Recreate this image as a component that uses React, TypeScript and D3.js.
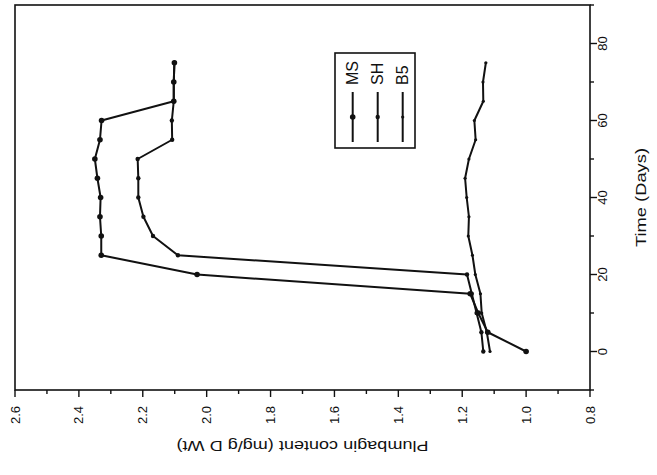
import React from "react";
import * as d3 from "d3";

// Sampling days for all three media
const days = [0, 5, 10, 15, 20, 25, 30, 35, 40, 45, 50, 55, 60, 65, 70, 75];

// Plumbagin content (mg/g D Wt) per medium
const msValues = [1.0, 1.12, 1.15, 1.175, 2.03, 2.33, 2.33, 2.334, 2.332, 2.342, 2.35, 2.334, 2.329, 2.103, 2.103, 2.101];
const shValues = [1.134, 1.14, 1.155, 1.17, 1.185, 2.09, 2.168, 2.198, 2.214, 2.214, 2.216, 2.108, 2.109, 2.103, 2.103, 2.101];
const b5Values = [1.113, 1.123, 1.139, 1.143, 1.159, 1.168, 1.181, 1.179, 1.186, 1.191, 1.179, 1.158, 1.162, 1.134, 1.135, 1.126];

const seriesNames = ["MS", "SH", "B5"];

const timeMajorTicks = [0, 20, 40, 60, 80];
const timeMinorTicks = [-10, 10, 30, 50, 70, 90];
const valueMajorTicks = [0.8, 1.0, 1.2, 1.4, 1.6, 1.8, 2.0, 2.2, 2.4, 2.6];
const valueMinorTicks = [0.9, 1.1, 1.3, 1.5, 1.7, 1.9, 2.1, 2.3, 2.5];

const FONT = "'Liberation Sans', Arial, Helvetica, sans-serif";

export default function App() {
  // Plot drawn upright, then turned a quarter turn counter-clockwise
  const W = 385; // time extent
  const H = 575; // content extent
  const x = d3.scaleLinear().domain([-10, 90]).range([0, W]);
  const y = d3.scaleLinear().domain([0.8, 2.6]).range([H, 0]);

  const line = d3
    .line<[number, number]>()
    .x((d) => x(d[0]))
    .y((d) => y(d[1]));

  const series = [
    { name: seriesNames[0], values: msValues, r: 2.8 },
    { name: seriesNames[1], values: shValues, r: 2.2 },
    { name: seriesNames[2], values: b5Values, r: 1.6 },
  ];

  const stroke = "#111";

  return (
    <svg
      width={657}
      height={475}
      style={{ position: "absolute", left: 0, top: 0, background: "#fff" }}
    >
      <g transform="translate(15,390) rotate(-90)" fontFamily={FONT} fill={stroke}>
        {/* frame */}
        <rect x={0} y={0} width={W} height={H} fill="none" stroke={stroke} strokeWidth={1.6} />

        {/* time axis along the bottom edge */}
        {timeMajorTicks.map((t) => (
          <g key={"tM" + t}>
            <line x1={x(t)} x2={x(t)} y1={H} y2={H + 7} stroke={stroke} strokeWidth={1.4} />
            <text x={x(t)} y={H + 17} textAnchor="middle" fontSize={13} stroke="none">
              {t}
            </text>
          </g>
        ))}
        {timeMinorTicks.map((t) => (
          <line key={"tm" + t} x1={x(t)} x2={x(t)} y1={H} y2={H + 4} stroke={stroke} strokeWidth={1.4} />
        ))}
        <text
          x={W / 2}
          y={H + 55.5}
          textAnchor="middle"
          fontSize={15}
          textLength={99}
          lengthAdjust="spacingAndGlyphs"
          stroke="none"
        >
          Time (Days)
        </text>

        {/* content axis along the left edge */}
        {valueMajorTicks.map((v) => (
          <g key={"vM" + v}>
            <line x1={0} x2={-7} y1={y(v)} y2={y(v)} stroke={stroke} strokeWidth={1.4} />
            <text
              x={-16}
              y={y(v)}
              dy="0.35em"
              textAnchor="end"
              fontSize={13}
              stroke="none"
            >
              {d3.format(".1f")(v)}
            </text>
          </g>
        ))}
        {valueMinorTicks.map((v) => (
          <line key={"vm" + v} x1={0} x2={-4} y1={y(v)} y2={y(v)} stroke={stroke} strokeWidth={1.4} />
        ))}
        <text
          transform={`translate(-51,${H / 2}) rotate(-90)`}
          textAnchor="middle"
          fontSize={15}
          textLength={252}
          lengthAdjust="spacingAndGlyphs"
          stroke="none"
        >
          Plumbagin content (mg/g D Wt)
        </text>

        {/* data */}
        {series.map((s) => {
          const pts = days.map((d, i) => [d, s.values[i]] as [number, number]);
          return (
            <g key={s.name}>
              <path d={line(pts) || ""} fill="none" stroke={stroke} strokeWidth={2} strokeLinejoin="round" />
              {pts.map((p, i) => (
                <circle key={i} cx={x(p[0])} cy={y(p[1])} r={s.r} fill={stroke} />
              ))}
            </g>
          );
        })}

        {/* legend */}
        <g transform="translate(242,320)">
          <rect x={0} y={0} width={95} height={80} fill="#fff" stroke={stroke} strokeWidth={1.6} />
          {series.map((s, i) => {
            const cy = 17.7 + i * 25;
            return (
              <g key={"lg" + s.name}>
                <line x1={6} x2={56} y1={cy} y2={cy} stroke={stroke} strokeWidth={2} />
                <circle cx={31} cy={cy} r={s.r} fill={stroke} />
                <text x={63} y={cy + 5.6} fontSize={16} stroke="none">
                  {s.name}
                </text>
              </g>
            );
          })}
        </g>
      </g>
    </svg>
  );
}
